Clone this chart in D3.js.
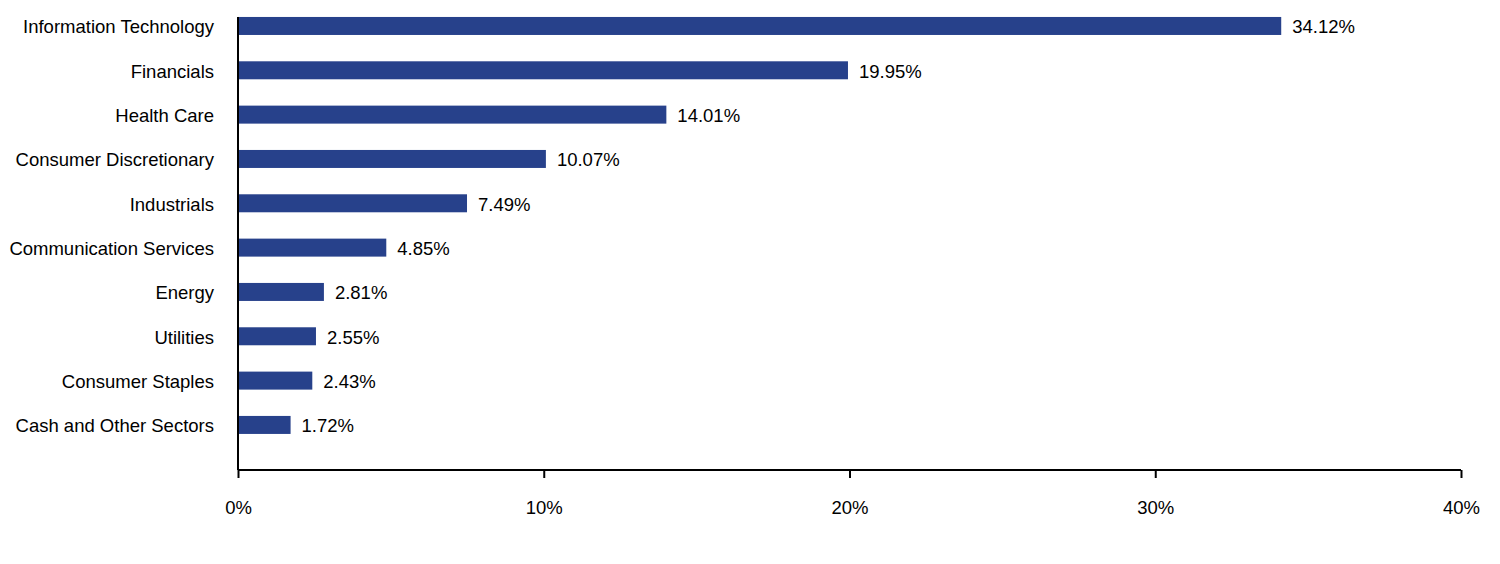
<!DOCTYPE html>
<html>
<head>
  <script src="https://d3js.org/d3.v7.min.js"></script>
  <style>
    body { margin: 0; background: #fff; }
    text { font-family: "Liberation Sans", Arial, sans-serif; fill: #000; }
  </style>
</head>
<body>
  <div id="chart"></div>
  <script>
    // sector weights
    var sectors = ['Information Technology', 'Financials', 'Health Care', 'Consumer Discretionary',
      'Industrials', 'Communication Services', 'Energy', 'Utilities', 'Consumer Staples',
      'Cash and Other Sectors'];
    var weights = [34.12, 19.95, 14.01, 10.07, 7.49, 4.85, 2.81, 2.55, 2.43, 1.72];
    var xTicks = [0, 10, 20, 30, 40];

    var width = 1500, height = 564;
    var x0 = 238, x1 = 1461, axisY = 470;
    var fontSize = '18.5px';

    var svg = d3.select('#chart').append('svg')
      .attr('width', width)
      .attr('height', height);

    var x = d3.scaleLinear().domain([0, 40]).range([x0, x1]);
    var y = d3.scaleBand().domain(sectors).range([3.8, 447.1]).paddingInner(0.594).paddingOuter(0.297);

    var data = sectors.map(function(s, i) { return { label: s, value: weights[i] }; });

    svg.selectAll('.bar')
      .data(data)
      .enter()
      .append('rect')
      .attr('class', 'bar')
      .attr('x', x(0))
      .attr('y', function(d) { return y(d.label); })
      .attr('width', function(d) { return x(d.value) - x(0); })
      .attr('height', y.bandwidth())
      .attr('fill', '#27418b');

    // value labels
    svg.selectAll('.val')
      .data(data)
      .enter()
      .append('text')
      .attr('class', 'val')
      .attr('x', function(d) { return x(d.value) + 11; })
      .attr('y', function(d) { return y(d.label) + y.bandwidth() / 2; })
      .attr('dy', '0.4em')
      .style('font-size', fontSize)
      .text(function(d) { return d.value.toFixed(2) + '%'; });

    // category labels
    svg.selectAll('.cat')
      .data(data)
      .enter()
      .append('text')
      .attr('class', 'cat')
      .attr('x', x0 - 24)
      .attr('y', function(d) { return y(d.label) + y.bandwidth() / 2; })
      .attr('dy', '0.4em')
      .attr('text-anchor', 'end')
      .style('font-size', fontSize)
      .text(function(d) { return d.label; });

    // y axis line
    svg.append('line')
      .attr('x1', x0).attr('x2', x0)
      .attr('y1', 17).attr('y2', axisY)
      .attr('stroke', '#000').attr('stroke-width', 2);

    // x axis
    var xAxis = d3.axisBottom(x)
      .tickValues(xTicks)
      .tickSize(8)
      .tickPadding(23)
      .tickFormat(function(d) { return d + '%'; });

    var gx = svg.append('g')
      .attr('transform', 'translate(0,' + axisY + ')')
      .call(xAxis);
    gx.select('.domain').attr('stroke', '#000').attr('stroke-width', 2)
      .attr('d', 'M' + x0 + ',0H' + x1);
    gx.selectAll('.tick line').attr('stroke', '#000').attr('stroke-width', 2);
    gx.selectAll('.tick text')
      .style('font-size', fontSize)
      .style('font-family', '"Liberation Sans", Arial, sans-serif')
      .attr('fill', '#000');
  </script>
</body>
</html>
